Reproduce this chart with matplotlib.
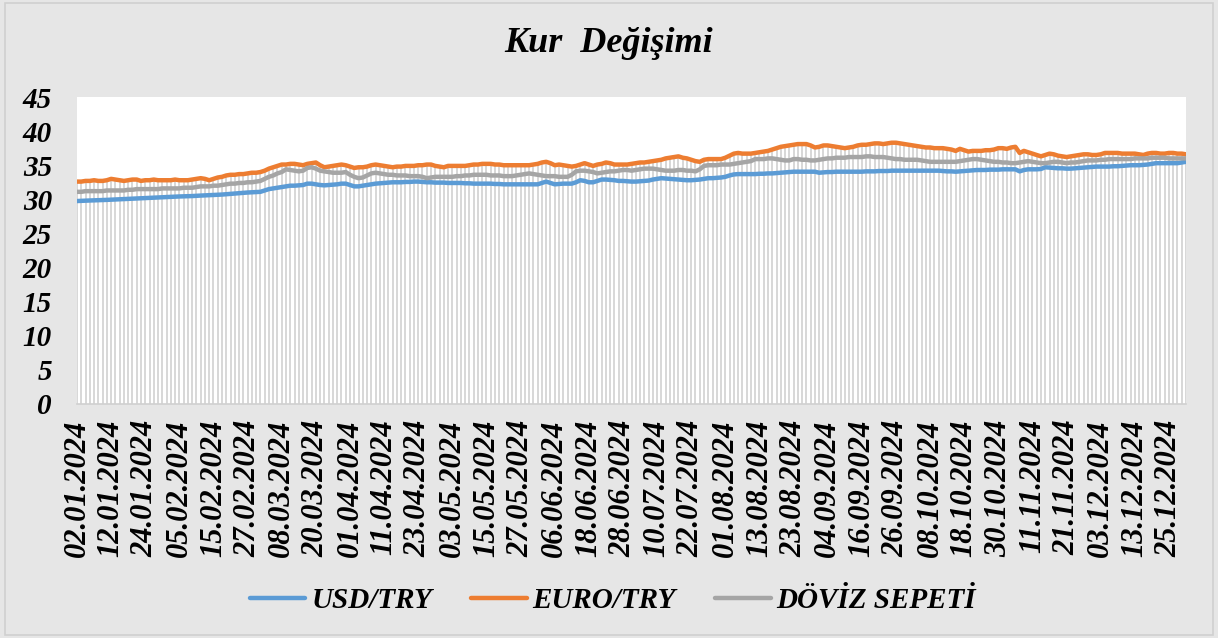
import numpy as np
import pandas as pd
import matplotlib
matplotlib.use("Agg")
import matplotlib.pyplot as plt
from matplotlib.patches import Rectangle

# ---------------- data ----------------
dates = pd.bdate_range("2024-01-02", "2024-12-31")
date_labels = [d.strftime("%d.%m.%Y") for d in dates]

usd_try = [
    29.75, 29.78, 29.80, 29.83, 29.85, 29.87, 29.90, 29.92,
    29.95, 29.97, 30.00, 30.03, 30.06, 30.10, 30.13, 30.16,
    30.19, 30.21, 30.24, 30.27, 30.30, 30.33, 30.36, 30.40,
    30.42, 30.44, 30.46, 30.48, 30.52, 30.55, 30.58, 30.60,
    30.63, 30.66, 30.70, 30.75, 30.80, 30.85, 30.90, 30.95,
    31.00, 31.03, 31.06, 31.10, 31.30, 31.50, 31.60, 31.70,
    31.80, 31.90, 32.00, 32.00, 32.05, 32.10, 32.30, 32.30,
    32.20, 32.10, 32.05, 32.10, 32.15, 32.20, 32.30, 32.30,
    32.10, 31.90, 31.90, 32.00, 32.10, 32.20, 32.30, 32.35,
    32.40, 32.45, 32.50, 32.50, 32.50, 32.55, 32.55, 32.60,
    32.60, 32.55, 32.50, 32.50, 32.45, 32.45, 32.45, 32.40,
    32.40, 32.40, 32.40, 32.35, 32.35, 32.30, 32.30, 32.30,
    32.30, 32.30, 32.25, 32.25, 32.20, 32.20, 32.20, 32.20,
    32.20, 32.20, 32.20, 32.20, 32.20, 32.40, 32.60, 32.40,
    32.20, 32.25, 32.30, 32.30, 32.30, 32.50, 32.80, 32.70,
    32.50, 32.50, 32.70, 32.90, 32.90, 32.85, 32.80, 32.70,
    32.70, 32.65, 32.60, 32.60, 32.65, 32.70, 32.75, 32.90,
    33.00, 33.10, 33.05, 33.00, 32.95, 32.90, 32.85, 32.80,
    32.80, 32.85, 32.90, 33.00, 33.10, 33.10, 33.15, 33.20,
    33.30, 33.50, 33.65, 33.70, 33.70, 33.70, 33.70, 33.70,
    33.75, 33.75, 33.80, 33.80, 33.85, 33.90, 33.95, 34.00,
    34.05, 34.05, 34.05, 34.05, 34.05, 34.05, 33.90, 33.95,
    34.00, 34.00, 34.05, 34.05, 34.05, 34.05, 34.05, 34.05,
    34.05, 34.10, 34.10, 34.10, 34.15, 34.15, 34.15, 34.20,
    34.20, 34.20, 34.20, 34.20, 34.20, 34.20, 34.20, 34.20,
    34.20, 34.20, 34.20, 34.15, 34.10, 34.10, 34.05, 34.10,
    34.15, 34.20, 34.25, 34.30, 34.30, 34.30, 34.35, 34.35,
    34.35, 34.40, 34.40, 34.40, 34.40, 34.10, 34.30, 34.40,
    34.40, 34.40, 34.45, 34.70, 34.65, 34.60, 34.55, 34.55,
    34.50, 34.50, 34.55, 34.60, 34.65, 34.70, 34.75, 34.80,
    34.80, 34.80, 34.80, 34.85, 34.85, 34.90, 34.95, 35.00,
    35.00, 35.00, 35.05, 35.10, 35.20, 35.30, 35.30, 35.30,
    35.30, 35.30, 35.30, 35.40, 35.50,
]

eur_try = [
    32.6, 32.6, 32.7, 32.7, 32.8, 32.7, 32.7, 32.8,
    33.0, 32.9, 32.8, 32.7, 32.8, 32.9, 32.9, 32.7,
    32.8, 32.8, 32.9, 32.8, 32.8, 32.8, 32.8, 32.9,
    32.8, 32.8, 32.8, 32.9, 33.0, 33.1, 33.0, 32.8,
    33.0, 33.2, 33.3, 33.5, 33.6, 33.6, 33.7, 33.7,
    33.8, 33.9, 33.9, 34.0, 34.2, 34.5, 34.7, 34.9,
    35.1, 35.1, 35.2, 35.2, 35.1, 35.0, 35.2, 35.3,
    35.4, 35.0, 34.7, 34.8, 34.9, 35.0, 35.1, 35.0,
    34.8, 34.6, 34.7, 34.7, 34.8, 35.0, 35.1, 35.0,
    34.9, 34.8, 34.7, 34.8, 34.8, 34.9, 34.9, 34.9,
    35.0, 35.0, 35.1, 35.1, 34.9, 34.8, 34.7, 34.9,
    34.9, 34.9, 34.9, 34.9, 35.0, 35.1, 35.1, 35.2,
    35.2, 35.2, 35.1, 35.1, 35.0, 35.0, 35.0, 35.0,
    35.0, 35.0, 35.0, 35.1, 35.2, 35.4, 35.5, 35.3,
    35.0, 35.1, 35.0, 34.9, 34.8, 34.9, 35.1, 35.3,
    35.1, 34.9, 35.1, 35.2, 35.4, 35.3, 35.1, 35.1,
    35.1, 35.1, 35.2, 35.3, 35.4, 35.4, 35.5, 35.6,
    35.7, 35.8, 36.0, 36.1, 36.2, 36.3, 36.1, 36.0,
    35.8, 35.6, 35.5, 35.8, 35.9, 35.9, 35.9, 35.9,
    36.1, 36.4, 36.7, 36.8, 36.7, 36.7, 36.7, 36.8,
    36.9, 37.0, 37.1, 37.3, 37.5, 37.7, 37.8, 37.9,
    38.0, 38.1, 38.1, 38.1, 37.9, 37.6, 37.7, 37.9,
    37.9, 37.8, 37.7, 37.6, 37.5, 37.6, 37.7, 37.9,
    38.0, 38.0, 38.1, 38.2, 38.2, 38.1, 38.2, 38.3,
    38.3, 38.2, 38.1, 38.0, 37.9, 37.8, 37.7, 37.6,
    37.6, 37.5, 37.5, 37.5, 37.4, 37.3, 37.1, 37.4,
    37.2, 37.0, 37.1, 37.1, 37.1, 37.2, 37.2, 37.3,
    37.5, 37.5, 37.4, 37.6, 37.7, 36.8, 37.1, 36.9,
    36.7, 36.5, 36.3, 36.5, 36.7, 36.6, 36.4, 36.3,
    36.2, 36.3, 36.4, 36.5, 36.6, 36.6, 36.5, 36.5,
    36.6, 36.8, 36.8, 36.8, 36.8, 36.7, 36.7, 36.7,
    36.7, 36.6, 36.5, 36.7, 36.8, 36.8, 36.7, 36.7,
    36.8, 36.8, 36.7, 36.7, 36.6,
]

doviz_sepeti = [
    31.1, 31.1, 31.2, 31.2, 31.2, 31.2, 31.2, 31.3,
    31.3, 31.3, 31.3, 31.3, 31.4, 31.4, 31.5, 31.5,
    31.5, 31.5, 31.5, 31.5, 31.6, 31.6, 31.6, 31.6,
    31.6, 31.7, 31.7, 31.7, 31.8, 31.9, 31.9, 31.9,
    32.0, 32.0, 32.1, 32.2, 32.3, 32.3, 32.4, 32.4,
    32.5, 32.5, 32.6, 32.7, 33.0, 33.3, 33.5, 33.8,
    34.0, 34.4, 34.3, 34.2, 34.1, 34.2, 34.6, 34.7,
    34.5, 34.2, 34.1, 34.0, 33.9, 33.9, 33.9, 34.0,
    33.6, 33.3, 33.1, 33.2, 33.5, 33.8, 33.9, 33.8,
    33.7, 33.6, 33.6, 33.5, 33.5, 33.5, 33.4, 33.4,
    33.4, 33.3, 33.1, 33.2, 33.3, 33.3, 33.3, 33.3,
    33.3, 33.4, 33.4, 33.5, 33.5, 33.6, 33.6, 33.6,
    33.6, 33.5, 33.5, 33.5, 33.4, 33.4, 33.4, 33.5,
    33.6, 33.7, 33.8, 33.7, 33.6, 33.5, 33.4, 33.4,
    33.4, 33.3, 33.3, 33.3, 33.6, 34.1, 34.2, 34.2,
    34.1, 34.0, 33.8, 33.9, 34.0, 34.1, 34.1, 34.2,
    34.3, 34.3, 34.2, 34.3, 34.4, 34.5, 34.5, 34.5,
    34.4, 34.3, 34.2, 34.2, 34.2, 34.3, 34.3, 34.2,
    34.2, 34.1, 34.4, 34.9, 35.0, 35.0, 35.0, 35.1,
    35.1, 35.1, 35.2, 35.3, 35.4, 35.5, 35.6, 35.9,
    35.9, 35.9, 36.0, 36.0, 35.9, 35.8, 35.7, 35.7,
    35.9, 35.9, 35.8, 35.8, 35.7, 35.7, 35.8, 35.9,
    36.0, 36.0, 36.1, 36.1, 36.1, 36.2, 36.2, 36.2,
    36.2, 36.3, 36.3, 36.2, 36.2, 36.2, 36.1, 36.0,
    35.9, 35.9, 35.8, 35.8, 35.8, 35.8, 35.7, 35.6,
    35.5, 35.5, 35.5, 35.5, 35.5, 35.5, 35.5, 35.6,
    35.7, 35.8, 35.9, 35.9, 35.8, 35.7, 35.6, 35.5,
    35.5, 35.4, 35.4, 35.3, 35.3, 35.4, 35.5, 35.6,
    35.5, 35.4, 35.3, 35.3, 35.4, 35.5, 35.5, 35.4,
    35.3, 35.4, 35.4, 35.5, 35.6, 35.7, 35.7, 35.7,
    35.8, 35.8, 35.9, 35.9, 35.9, 35.9, 35.9, 35.9,
    36.0, 36.0, 36.0, 36.0, 36.1, 36.1, 36.1, 36.1,
    36.0, 36.0, 36.0, 36.0, 36.0,
]

series_names = ["USD/TRY", "EURO/TRY", "DÖVİZ SEPETİ"]
y_ticks = [0, 5, 10, 15, 20, 25, 30, 35, 40, 45]
label_step = 8
title_text = "Kur  Değişimi"

# ---------------- style ----------------
W, H = 1218, 638
DPI = 100
BG = "#E6E6E6"
colors = ["#5B9BD5", "#ED7D31", "#A5A5A5"]
FONT = ["Liberation Serif", "DejaVu Serif"]

plt.rcParams["font.family"] = FONT
plt.rcParams["font.weight"] = "bold"
plt.rcParams["font.style"] = "italic"

fig = plt.figure(figsize=(W / DPI, H / DPI), dpi=DPI, facecolor=BG)
fig.patches.append(Rectangle((0.004, 0.004), 0.992, 0.992, transform=fig.transFigure,
                             fill=False, edgecolor="#D0D0D0", linewidth=1.2))

left, right, top, bottom = 77, 1186, 97, 404
ax = fig.add_axes([left / W, 1 - bottom / H, (right - left) / W, (bottom - top) / H])
ax.set_facecolor("white")

x = np.arange(len(dates))
data = [usd_try, eur_try, doviz_sepeti]
top_vals = np.max(np.array(data), axis=0)

# drop lines
ax.vlines(x, 0, top_vals, colors="#D4D4D4", linewidth=1.3, zorder=1)

lines = []
for vals, c, name in zip(data, colors, series_names):
    ln, = ax.plot(x, vals, color=c, linewidth=3.2, solid_capstyle="round",
                  solid_joinstyle="round", label=name, zorder=3)
    lines.append(ln)

ax.set_xlim(0, len(dates) - 1)
ax.set_ylim(0, 45)
ax.set_yticks(y_ticks)
ax.set_yticklabels([str(v) for v in y_ticks])
tick_idx = x[::label_step]
ax.set_xticks(tick_idx)
ax.set_xticklabels([date_labels[i] for i in tick_idx], rotation=90)

for s in ["top", "right", "left"]:
    ax.spines[s].set_visible(False)
ax.spines["bottom"].set_color("#D0D0D0")
ax.spines["bottom"].set_linewidth(1.2)

ax.tick_params(axis="both", length=0)
ax.tick_params(axis="y", labelsize=21, pad=18)
ax.tick_params(axis="x", labelsize=22, pad=11)
for lab in ax.get_xticklabels() + ax.get_yticklabels():
    lab.set_fontweight("bold")
    lab.set_fontstyle("italic")

fig.text(609 / W, 1 - 43 / H, title_text, ha="center", va="center",
         fontsize=26, fontweight="bold", fontstyle="italic")

leg = fig.legend(handles=lines, loc="center", bbox_to_anchor=(613 / W, 1 - 601 / H),
                 ncol=3, frameon=False, handlelength=1.9, handletextpad=0.2,
                 columnspacing=1.35,
                 prop={"family": FONT, "weight": "bold", "style": "italic", "size": 21})

fig.savefig("out.png", dpi=DPI, facecolor=BG)
